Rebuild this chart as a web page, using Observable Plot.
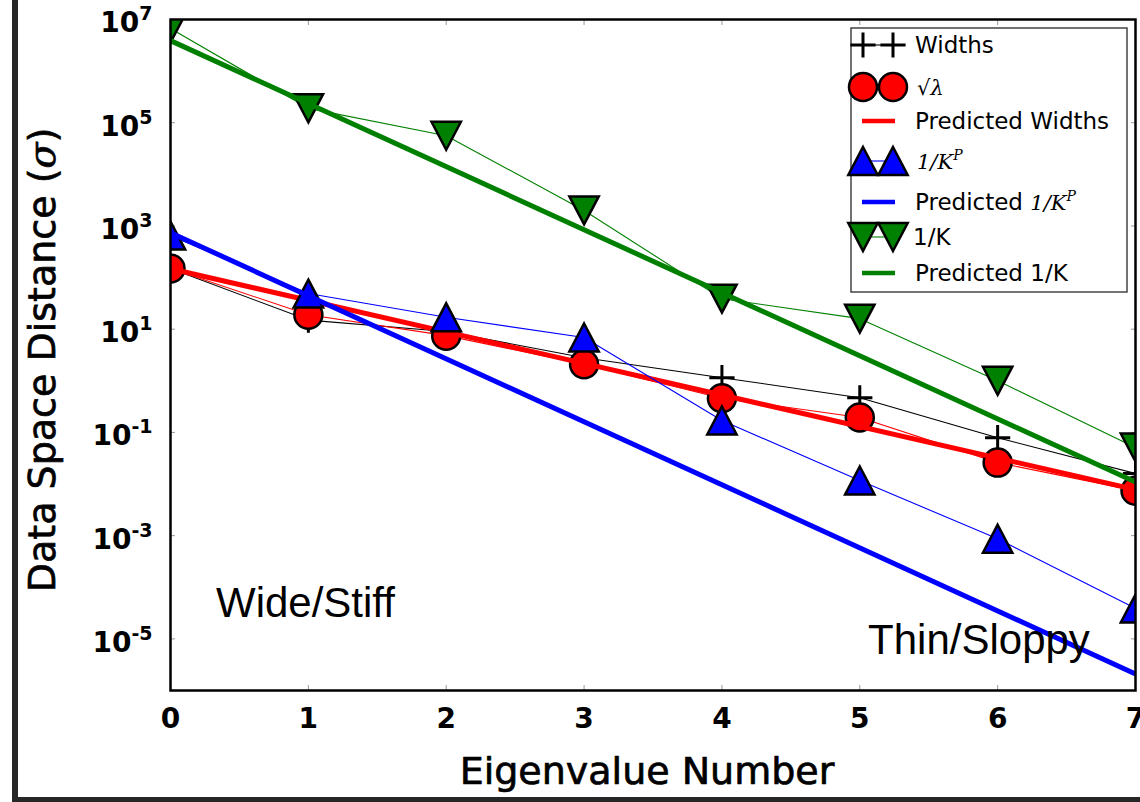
<!DOCTYPE html>
<html><head><meta charset="utf-8">
<script src="https://cdn.jsdelivr.net/npm/d3@7"></script>
<script src="https://cdn.jsdelivr.net/npm/@observablehq/plot@0.6"></script>
<style>
html,body{margin:0;padding:0;background:#fff;overflow:hidden;}
#wrap{position:relative;width:1140px;height:802px;overflow:hidden;background:#fff;}
#frame{position:absolute;left:12px;top:-10px;width:1200px;height:807px;border-left:6px solid #262626;border-bottom:5px solid #262626;}
#chart{position:absolute;left:0;top:0;}
#legend{position:absolute;left:0;top:0;pointer-events:none;}
</style></head><body>
<div id="wrap"><div id="frame"></div><div id="chart"></div><svg id="legend" width="1140" height="802"></svg></div>
<script>
// ---- data ----
const eigen = [0, 1, 2, 3, 4, 5, 6, 7];
const widths = [150, 15, 9, 2.8, 1.15, 0.47, 0.079, 0.016];
const sqrtLambda = [150, 19, 7.5, 2.1, 0.46, 0.195, 0.026, 0.0074];
const invKP = [650, 49, 17, 6.9, 0.17, 0.0117, 0.00087, 0.000039];
const invK = [6.7e6, 1.9e5, 5.6e4, 2000, 39, 16, 1.0, 0.051];
const predX = [0, 7];
const predWidths = [148, 0.0078];
const predInvKP = [740, 2.1e-6];
const predInvK = [3.9e6, 0.011];
const xTicks = [0, 1, 2, 3, 4, 5, 6, 7];
const yTicks = [1e-5, 1e-3, 1e-1, 1e1, 1e3, 1e5, 1e7];
const xLabel = "Eigenvalue Number";
const yLabel = "Data Space Distance (σ)";
const annotations = [
  {label: "Wide/Stiff", x: 0.33, y: 2.7e-5},
  {label: "Thin/Sloppy", x: 5.06, y: 5.2e-6}
];
const legendItems = [
  {key: "widths", text: "Widths"},
  {key: "sqrt", text: "√λ"},
  {key: "predW", text: "Predicted Widths"},
  {key: "kp", text: "1/K^P"},
  {key: "predKP", text: "Predicted 1/K^P"},
  {key: "k", text: "1/K"},
  {key: "predK", text: "Predicted 1/K"}
];

const rows = eigen.map((x, i) => ({x, widths: widths[i], sqrt: sqrtLambda[i], kp: invKP[i], k: invK[i]}));
const predRows = predX.map((x, i) => ({x, w: predWidths[i], kp: predInvKP[i], k: predInvK[i]}));

// ---- marker symbols (matplotlib-like) ----
const triUp = {draw(c, size) { const r = Math.sqrt(size / Math.PI); c.moveTo(0, -r); c.lineTo(1.05 * r, r); c.lineTo(-1.05 * r, r); c.closePath(); }};
const triDown = {draw(c, size) { const r = Math.sqrt(size / Math.PI); c.moveTo(0, r); c.lineTo(1.05 * r, -r); c.lineTo(-1.05 * r, -r); c.closePath(); }};
const plusSym = {draw(c, size) { const r = Math.sqrt(size / Math.PI) * 0.9; c.moveTo(-r, 0); c.lineTo(r, 0); c.moveTo(0, -r); c.lineTo(0, r); }};

const RED = "#ff0000", BLUE = "#0000ff", GREEN = "#008000";
const expFmt = d => "10^" + Math.round(Math.log10(d));

const chart = Plot.plot({
  width: 1140, height: 802,
  marginLeft: 170, marginRight: 5, marginTop: 19, marginBottom: 112,
  style: {fontFamily: "DejaVu Sans", background: "transparent", color: "black"},
  x: {domain: [0, 7]},
  y: {type: "log", domain: [1e-6, 1e7]},
  marks: [
    Plot.axisX({ticks: xTicks, anchor: "bottom", tickSize: -5, tickPadding: 23, stroke: "#999", fontSize: 28, fontWeight: "bold", label: null, tickFormat: d => String(d)}),
    Plot.axisX({ticks: xTicks, anchor: "top", tickSize: -5, stroke: "#999", label: null, tickFormat: () => ""}),
    Plot.axisY({ticks: yTicks, anchor: "left", tickSize: -5, tickPadding: 23, stroke: "#999", fontSize: 28, fontWeight: "bold", label: null, tickFormat: expFmt}),
    Plot.axisY({ticks: yTicks, anchor: "right", tickSize: -5, stroke: "#999", label: null, tickFormat: () => ""}),
    // Widths
    Plot.line(rows, {x: "x", y: "widths", stroke: "black", strokeWidth: 1.1, clip: true}),
    Plot.dot(rows, {x: "x", y: "widths", r: 14, symbol: plusSym, stroke: "black", fill: "none", strokeWidth: 3, clip: true}),
    // sqrt lambda
    Plot.line(rows, {x: "x", y: "sqrt", stroke: RED, strokeWidth: 1.1, clip: true}),
    Plot.dot(rows, {x: "x", y: "sqrt", r: 14, symbol: "circle", fill: RED, stroke: "black", strokeWidth: 2.5, clip: true}),
    // predicted widths
    Plot.line(predRows, {x: "x", y: "w", stroke: RED, strokeWidth: 5, clip: true}),
    // 1/K^P
    Plot.line(rows, {x: "x", y: "kp", stroke: BLUE, strokeWidth: 1.1, clip: true}),
    Plot.dot(rows, {x: "x", y: "kp", r: 14, symbol: triUp, fill: BLUE, stroke: "black", strokeWidth: 2.5, clip: true}),
    Plot.line(predRows, {x: "x", y: "kp", stroke: BLUE, strokeWidth: 5, clip: true}),
    // 1/K
    Plot.line(rows, {x: "x", y: "k", stroke: GREEN, strokeWidth: 1.1, clip: true}),
    Plot.dot(rows, {x: "x", y: "k", r: 14, symbol: triDown, fill: GREEN, stroke: "black", strokeWidth: 2.5, clip: true}),
    Plot.line(predRows, {x: "x", y: "k", stroke: GREEN, strokeWidth: 5, clip: true}),
    // annotations
    Plot.text(annotations, {x: "x", y: "y", text: "label", fontFamily: "Liberation Sans", fontSize: 42, textAnchor: "start", lineAnchor: "bottom", fill: "black"}),
    // axis titles
    Plot.text([yLabel], {text: d => d, frameAnchor: "left", rotate: -90, dx: -116, dy: 5, fontSize: 38, lineAnchor: "bottom", textAnchor: "middle", fill: "black", stroke: "black", strokeWidth: 0.7}),
    Plot.text([xLabel], {text: d => d, frameAnchor: "bottom", dx: -6, dy: 93, fontSize: 38, lineAnchor: "bottom", textAnchor: "middle", fill: "black", stroke: "black", strokeWidth: 0.7}),
    Plot.frame({stroke: "black", strokeWidth: 2.5})
  ]
});
document.getElementById("chart").appendChild(chart);

// italic serif sigma in y label; superscript exponents in y tick labels
d3.select(chart).selectAll("text").each(function() {
  const t = this.textContent;
  const el = d3.select(this);
  if (t === yLabel) {
    el.text(null);
    el.append("tspan").text("Data Space Distance (");
    el.append("tspan").attr("font-family", "DejaVu Serif").attr("font-style", "italic").text("σ");
    el.append("tspan").text(")");
  } else if (/^10\^-?\d+$/.test(t)) {
    const e = t.split("^")[1];
    el.text(null);
    el.append("tspan").attr("dy", 4).text("10");
    el.append("tspan").attr("font-size", 19).attr("dy", -12).text(e);
  }
});

// ---- legend ----
const lg = d3.select("#legend");
lg.append("rect").attr("x", 851).attr("y", 28).attr("width", 276).attr("height", 264)
  .attr("fill", "white").attr("stroke", "#444").attr("stroke-width", 1.5);
const rowY = [45, 87, 121, 161, 202, 237, 273];
const mx = [863, 893];
const symPath = (sym, r) => d3.symbol(sym, r * r * Math.PI)();
function markerRow(y, color, sym, fill, sw) {
  lg.append("line").attr("x1", mx[0]).attr("x2", mx[1]).attr("y1", y).attr("y2", y).attr("stroke", color).attr("stroke-width", 1.1);
  mx.forEach(x => lg.append("path").attr("d", symPath(sym, 14)).attr("transform", `translate(${x},${y})`)
    .attr("fill", fill).attr("stroke", "black").attr("stroke-width", sw));
}
function lineRow(y, color) {
  lg.append("line").attr("x1", 862).attr("x2", 895).attr("y1", y).attr("y2", y).attr("stroke", color).attr("stroke-width", 4.5);
}
function label(y, parts, x = 915) {
  const t = lg.append("text").attr("x", x).attr("y", y).attr("dy", "0.36em")
    .attr("font-family", "DejaVu Sans").attr("font-size", 23).attr("fill", "black");
  parts.forEach(p => {
    const s = t.append("tspan").text(p.t);
    if (p.math) s.attr("font-family", "DejaVu Serif").attr("font-style", "italic").attr("font-size", 21);
    if (p.sup) s.attr("font-family", "DejaVu Serif").attr("font-style", "italic").attr("font-size", 14).attr("dy", -9);
  });
}
markerRow(rowY[0], "black", plusSym, "none", 3);
label(rowY[0], [{t: legendItems[0].text}]);
markerRow(rowY[1], RED, d3.symbolCircle, RED, 2.5);
label(rowY[1], [{t: legendItems[1].text, math: true}], 917);
lineRow(rowY[2], RED);
label(rowY[2], [{t: legendItems[2].text}]);
markerRow(rowY[3], BLUE, triUp, BLUE, 2.5);
label(rowY[3], [{t: "1/K", math: true}, {t: "P", sup: true}], 917);
lineRow(rowY[4], BLUE);
label(rowY[4], [{t: "Predicted "}, {t: "1/K", math: true}, {t: "P", sup: true}]);
markerRow(rowY[5], GREEN, triDown, GREEN, 2.5);
label(rowY[5], [{t: legendItems[5].text}], 913);
lineRow(rowY[6], GREEN);
label(rowY[6], [{t: legendItems[6].text}]);
</script>
</body></html>
